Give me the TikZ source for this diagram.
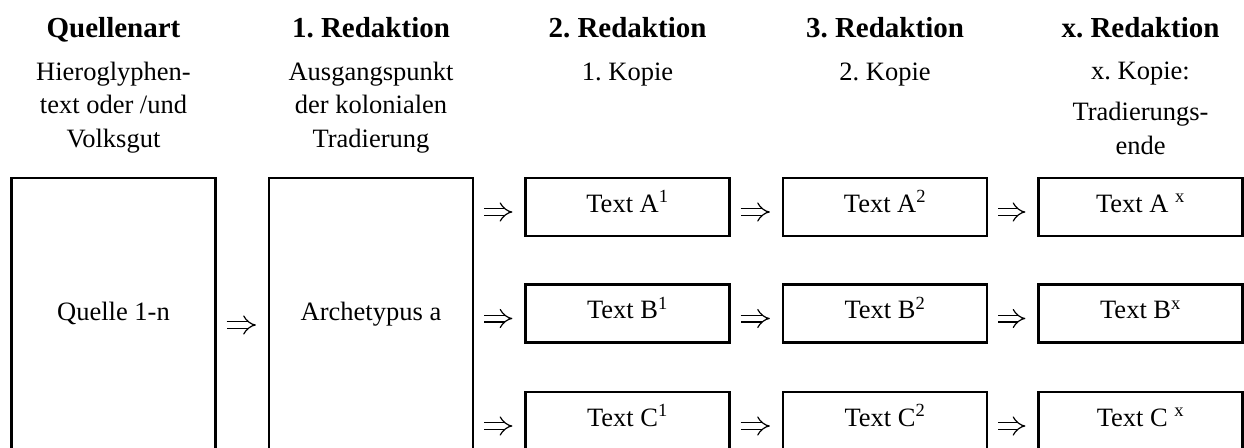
\documentclass[tikz,border=0pt]{standalone}
\usepackage{fontspec}
\setmainfont{Liberation Serif}
\usetikzlibrary{arrows.meta}
\frenchspacing
\begin{document}
\begin{tikzpicture}[x=1pt,y=-1pt,
  frame/.style={draw, line width=2.2pt, inner sep=0pt, minimum width=204pt},
  rowbox/.style={frame, minimum height=58pt},
  tallbox/.style={frame, minimum height=300pt},
  head/.style={anchor=base, inner sep=0pt, font=\fontsize{29}{33}\selectfont\bfseries},
  sub/.style={anchor=base, inner sep=0pt, font=\fontsize{26.5}{33}\selectfont},
  boxtext/.style={anchor=base, inner sep=0pt, font=\fontsize{26.5}{33}\selectfont},
  flow/.style={double, double distance=5.6pt, line width=1.2pt, -{Implies},
    shorten <=10pt, shorten >=12pt}
]
\useasboundingbox (0,0) rectangle (1244,447);
\clip (0,0) rectangle (1244,447);

% column headings
\node[head] (h1) at (113.5,37) {Quellenart};
\node[head] (h2) at (371,37)   {1. Redaktion};
\node[head] (h3) at (627.5,37) {2. Redaktion};
\node[head] (h4) at (885,37)   {3. Redaktion};
\node[head] (h5) at (1140.5,37){x. Redaktion};

% descriptions under the headings
\node[sub] (d1a) at (113.5,80)  {Hieroglyphen-};
\node[sub] (d1b) at (113.5,113) {text oder /und};
\node[sub] (d1c) at (113.5,147) {Volksgut};
\node[sub] (d2a) at (371,80)    {Ausgangspunkt};
\node[sub] (d2b) at (371,113)   {der kolonialen};
\node[sub] (d2c) at (371,147)   {Tradierung};
\node[sub] (d3a) at (627.5,80)  {1. Kopie};
\node[sub] (d4a) at (885,80)    {2. Kopie};
\node[sub] (d5a) at (1140.5,79) {x. Kopie:};
\node[sub] (d5b) at (1140.5,120){Tradierungs-};
\node[sub] (d5c) at (1140.5,154){ende};

% source and archetype (open towards the bottom edge)
\node[tallbox] (src)  at (113.5,328) {};
\node[tallbox] (arch) at (371,328) {};
\node[boxtext] (srct)  at (113.5,320) {Quelle 1-n};
\node[boxtext] (archt) at (371,320)   {Archetypus a};

% copies
\foreach \r/\y/\sx in {A/207/{ }, B/313.5/{}, C/421/{ }} {
  \node[rowbox] (\r1) at (627.5,\y) {};
  \node[rowbox] (\r2) at (885,\y) {};
  \node[rowbox] (\r3) at (1140.5,\y) {};
  \node[boxtext] (\r1t) at ([yshift=-5pt]\r1.center) {Text \r\textsuperscript{1}};
  \node[boxtext] (\r2t) at ([yshift=-5pt]\r2.center) {Text \r\textsuperscript{2}};
  \node[boxtext] (\r3t) at ([yshift=-5pt]\r3.center) {Text \r\sx\textsuperscript{x}};
  \coordinate (\r0) at (\r1.west -| arch.east);
  \draw[flow] ([yshift=-5pt]\r0) -- ([yshift=-5pt]\r1.west);
  \draw[flow] ([yshift=-5pt]\r1.east) -- ([yshift=-5pt]\r2.west);
  \draw[flow] ([yshift=-5pt]\r2.east) -- ([yshift=-5pt]\r3.west);
}

\draw[flow] ([yshift=3pt]src.east) -- ([yshift=3pt]arch.west);
\end{tikzpicture}
\end{document}
